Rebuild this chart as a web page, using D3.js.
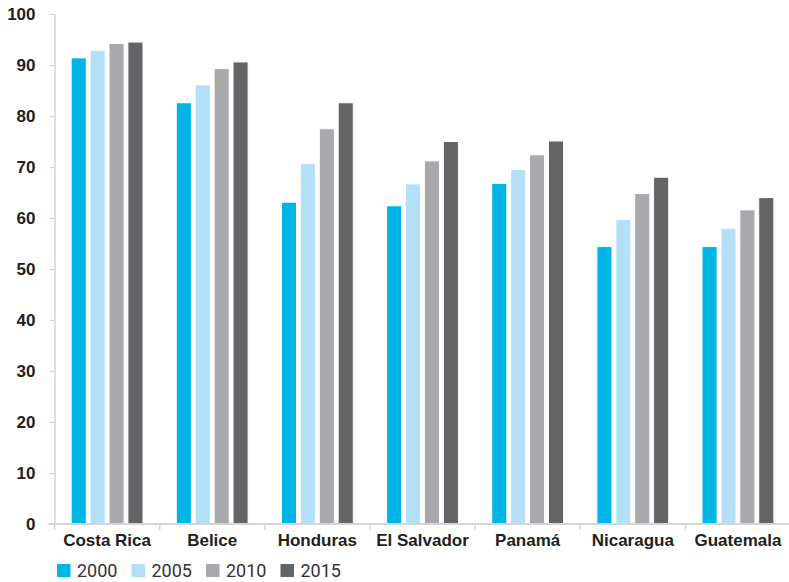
<!DOCTYPE html>
<html>
<head>
<meta charset="utf-8">
<script src="https://cdn.jsdelivr.net/npm/d3@7"></script>
<style>
  html, body { margin: 0; padding: 0; background: #fff; }
  svg { display: block; font-family: Roboto, "Noto Sans", sans-serif; }
</style>
</head>
<body>
<svg id="chart" width="789" height="582"></svg>
<script>
const categories = ["Costa Rica", "Belice", "Honduras", "El Salvador", "Panamá", "Nicaragua", "Guatemala"];
const seriesNames = ["2000", "2005", "2010", "2015"];
const values2000 = [91.4, 82.6, 63.1, 62.4, 66.8, 54.4, 54.4];
const values2005 = [92.9, 86.1, 70.7, 66.7, 69.5, 59.7, 58.0];
const values2010 = [94.2, 89.3, 77.5, 71.2, 72.4, 64.8, 61.6];
const values2015 = [94.5, 90.6, 82.6, 75.0, 75.1, 68.0, 64.0];
const yTicks = [0, 10, 20, 30, 40, 50, 60, 70, 80, 90, 100];
const colors = ["#00b5e6", "#b3e0f6", "#a7a9ac", "#636466"];

const seriesValues = [values2000, values2005, values2010, values2015];

(function () {
const svg = d3.select("#chart");
const mLeft = 54.5, mRight = 790.5, mTop = 14, mBottom = 524;

const x0 = d3.scaleBand().domain(categories).range([mLeft, mRight]).paddingInner(0).paddingOuter(0);
const x1 = d3.scaleBand().domain(seriesNames).range([0, x0.bandwidth()]).paddingInner(0.2).paddingOuter(0.88);
const y = d3.scaleLinear().domain([0, 100]).range([mBottom, mTop]);

const axisColor = "#d4d4d4";
const textColor = "#231f20";

// Y axis
const yAxis = svg.append("g")
  .attr("transform", `translate(${mLeft},0)`)
  .call(d3.axisLeft(y).tickValues(yTicks).tickSize(5).tickSizeOuter(0).tickPadding(14));
yAxis.select(".domain").attr("stroke", axisColor).attr("stroke-width", 1.5);
yAxis.selectAll(".tick line").attr("stroke", axisColor).attr("stroke-width", 1.2);
yAxis.selectAll(".tick text")
  .attr("fill", textColor)
  .style("font-size", "17px")
  .style("font-weight", "bold");

// Bars
const groups = svg.append("g").selectAll("g")
  .data(categories)
  .join("g")
  .attr("transform", d => `translate(${x0(d)},0)`);

groups.selectAll("rect")
  .data((c, ci) => seriesNames.map((s, si) => ({ s, si, v: seriesValues[si][ci] })))
  .join("rect")
  .attr("x", d => x1(d.s))
  .attr("width", x1.bandwidth())
  .attr("y", d => y(d.v))
  .attr("height", d => y(0) - y(d.v))
  .attr("fill", d => colors[d.si])
  .attr("stroke", "#fff")
  .attr("stroke-width", 1);

// X axis
const xAxis = svg.append("g")
  .attr("transform", `translate(0,${mBottom})`)
  .call(d3.axisBottom(x0).tickSize(0).tickSizeOuter(0).tickPadding(10));
xAxis.select(".domain").remove();
xAxis.selectAll(".tick text")
  .attr("fill", textColor)
  .style("font-size", "17px")
  .style("font-weight", "bold");

svg.append("line")
  .attr("x1", mLeft - 6).attr("x2", mRight)
  .attr("y1", mBottom).attr("y2", mBottom)
  .attr("stroke", axisColor).attr("stroke-width", 2);

svg.append("g").selectAll("line")
  .data(categories)
  .join("line")
  .attr("x1", d => x0(d)).attr("x2", d => x0(d))
  .attr("y1", mBottom).attr("y2", mBottom + 6)
  .attr("stroke", axisColor).attr("stroke-width", 1.5);

// Legend
const legendX = d3.scaleBand().domain(seriesNames).range([57, 57 + 4 * 74.5]);
const legend = svg.append("g").selectAll("g")
  .data(seriesNames)
  .join("g")
  .attr("transform", d => `translate(${legendX(d)},564)`);
legend.append("rect")
  .attr("width", 13.5).attr("height", 13)
  .attr("fill", (d, i) => colors[i]);
legend.append("text")
  .attr("x", 20).attr("y", 13)
  .attr("fill", "#333")
  .style("font-size", "18px")
  .text(d => d);
})();
</script>
</body>
</html>
